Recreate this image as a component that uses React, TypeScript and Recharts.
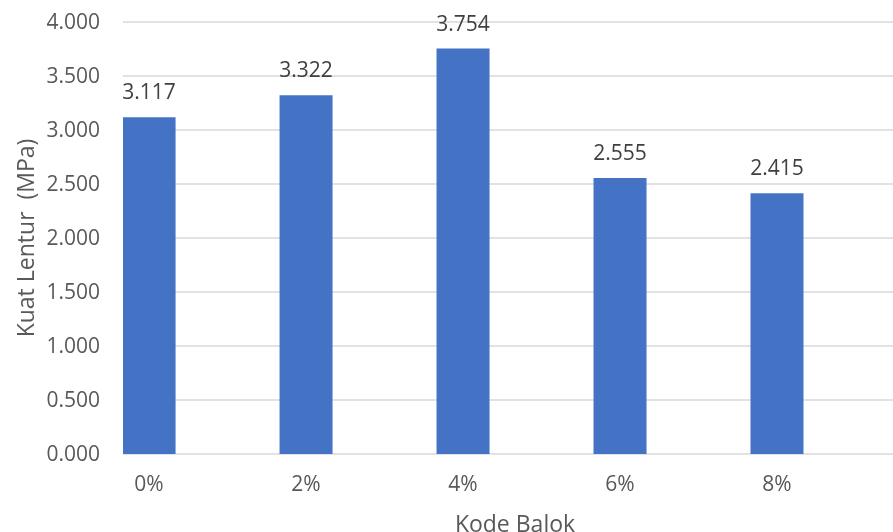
import { Bar, BarChart, CartesianGrid, LabelList, XAxis, YAxis } from "recharts"

// Kuat lentur per kode balok
const categories = ["0%", "2%", "4%", "6%", "8%"]
const values = [3.117, 3.322, 3.754, 2.555, 2.415]
const yTicks = [0, 0.5, 1, 1.5, 2, 2.5, 3, 3.5, 4]

const data = categories.map((name, i) => ({ idx: i, name, value: values[i] }))

const font = "'Open Sans', 'Noto Sans', sans-serif"

export default function App() {
    return (
        <div style={{ position: "fixed", left: 0, top: 0 }}>
            <BarChart
                width={893}
                height={532}
                data={data}
                margin={{ top: 22, right: 0, bottom: 0, left: 0 }}
                style={{ fontFamily: font }}
            >
                <CartesianGrid vertical={false} stroke="#d9d9d9" strokeWidth={1.5} />
                <XAxis
                    dataKey="idx"
                    type="number"
                    domain={[-0.166, 4.739]}
                    ticks={[0, 1, 2, 3, 4]}
                    allowDataOverflow
                    height={78}
                    axisLine={false}
                    tickLine={false}
                    tickMargin={16}
                    tick={{ fill: "#595959", fontSize: 21 }}
                    tickFormatter={(i) => categories[i]}
                    label={{
                        value: "Kode Balok",
                        position: "insideBottom",
                        offset: 0,
                        dx: 7,
                        fill: "#595959",
                        fontSize: 23,
                    }}
                />
                <YAxis
                    domain={[0, 4]}
                    ticks={yTicks}
                    width={123}
                    axisLine={false}
                    tickLine={false}
                    tickMargin={17}
                    tick={{ fill: "#595959", fontSize: 21 }}
                    tickFormatter={(v) => v.toFixed(3)}
                    label={{
                        value: "Kuat Lentur\u00A0\u00A0(MPa)",
                        angle: -90,
                        position: "center",
                        dx: -36,
                        fill: "#595959",
                        fontSize: 23,
                    }}
                />
                <Bar dataKey="value" fill="#4472C4" barSize={53} isAnimationActive={false}>
                    <LabelList
                        dataKey="value"
                        position="top"
                        offset={18}
                        fill="#404040"
                        fontSize={21}
                        formatter={(v: number) => v.toFixed(3)}
                    />
                </Bar>
            </BarChart>
        </div>
    )
}
